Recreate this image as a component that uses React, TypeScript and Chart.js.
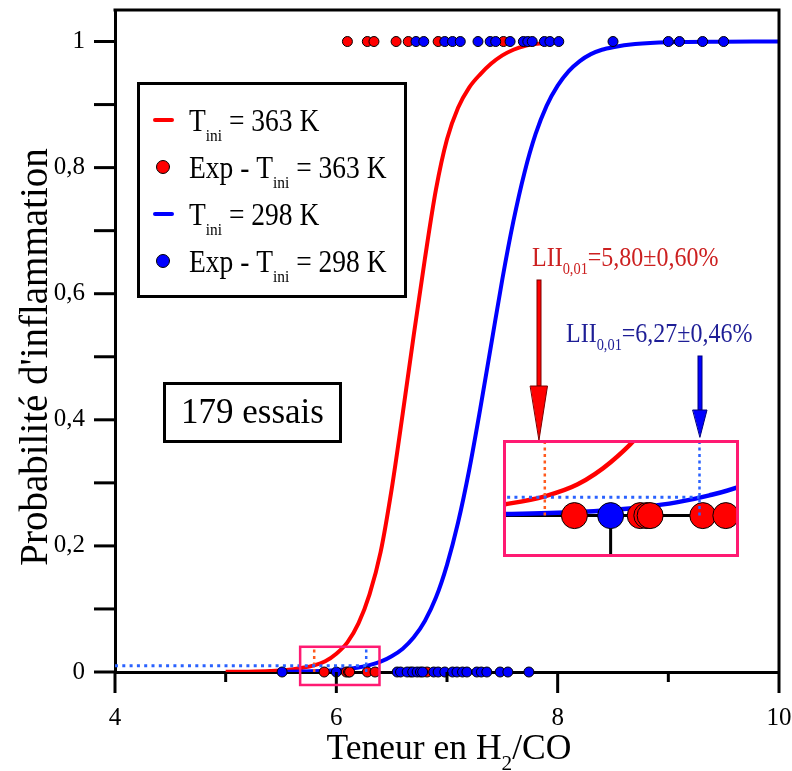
import React, { useEffect, useRef } from 'react';
import { Chart, registerables } from 'chart.js';

Chart.register(...registerables);

const FONT = '"Liberation Serif", "Times New Roman", serif';

// ---------- data ----------
const X_MIN = 4;
const X_MAX = 10;
const Y_MIN = 0;
const Y_MAX = 1.05;
const X_TICKS = [4, 5, 6, 7, 8, 9, 10];
const X_LABELED = [4, 6, 8, 10];
const Y_TICKS = [0, 0.1, 0.2, 0.3, 0.4, 0.5, 0.6, 0.7, 0.8, 0.9, 1];

// fitted curve T = 363 K
const redCurveX = [5.0, 5.2, 5.4, 5.55, 5.68, 5.8, 5.9, 6.0, 6.1, 6.2, 6.3, 6.4, 6.5, 6.6, 6.7, 6.8, 6.9, 7.0, 7.1, 7.2, 7.3, 7.4, 7.5, 7.6, 7.7, 7.85, 8.0];
const redCurveY = [0.0002, 0.0005, 0.0014, 0.003, 0.0062, 0.0105, 0.017, 0.029, 0.047, 0.077, 0.123, 0.19, 0.29, 0.41, 0.535, 0.655, 0.765, 0.845, 0.895, 0.927, 0.948, 0.965, 0.978, 0.987, 0.993, 0.997, 0.999];

// fitted curve T = 298 K
const blueCurveX = [5.5, 5.7, 5.9, 6.0, 6.1, 6.2, 6.3, 6.4, 6.5, 6.6, 6.7, 6.8, 6.9, 7.0, 7.1, 7.2, 7.3, 7.4, 7.5, 7.6, 7.7, 7.8, 7.9, 8.0, 8.1, 8.2, 8.3, 8.4, 8.5, 8.7, 9.0, 9.5, 10];
const blueCurveY = [0.0004, 0.0009, 0.002, 0.0031, 0.0047, 0.0072, 0.011, 0.0163, 0.025, 0.037, 0.055, 0.081, 0.118, 0.17, 0.237, 0.32, 0.417, 0.52, 0.623, 0.715, 0.792, 0.853, 0.898, 0.93, 0.953, 0.969, 0.98, 0.987, 0.991, 0.996, 0.999, 0.9998, 1.0];

// experiments: ignition (y = 1) and no ignition (y = 0)
const redIgnitionX = [6.1, 6.28, 6.34, 6.54, 6.65, 6.92, 7.51];
const blueIgnitionX = [6.72, 6.79, 6.98, 7.05, 7.12, 7.28, 7.39, 7.44, 7.57, 7.69, 7.73, 7.77, 7.88, 7.93, 8.01, 8.5, 9.0, 9.1, 9.31, 9.5];
const redNoIgnitionX = [5.89, 6.09, 6.11, 6.12, 6.28, 6.35, 6.67, 6.82];
const blueNoIgnitionX = [5.51, 6.0, 6.55, 6.58, 6.64, 6.69, 6.73, 6.76, 6.78, 6.88, 6.92, 6.98, 7.05, 7.09, 7.14, 7.18, 7.27, 7.31, 7.36, 7.48, 7.55, 7.74];

const P_LEVEL = 0.01;
const LII_RED = 5.8;
const LII_BLUE = 6.27;
const ZOOM_X = [5.673, 6.39];
const ZOOM_Y = [-0.0206, 0.04];
const INSET_Y = [-0.0225, 0.0411];

const LEGEND_LABELS = [
  { kind: 'line', color: '#ff0000', pre: 'T', post: ' = 363 K' },
  { kind: 'dot', color: '#ff0000', pre: 'Exp - T', post: ' = 363 K' },
  { kind: 'line', color: '#0000ff', pre: 'T', post: ' = 298 K' },
  { kind: 'dot', color: '#0000ff', pre: 'Exp - T', post: ' = 298 K' },
];

const RED = '#ff0000';
const BLUE = '#0000ff';
const DOT_BLUE = '#2a62ff';
const DOT_RED = '#ff5a1e';
const MAGENTA = '#ff1a72';

// ---------- helpers ----------
type Part = [string, boolean];
function drawRich(ctx: CanvasRenderingContext2D, parts: Part[], x: number, y: number, size: number, color: string, align: 'left' | 'center' = 'left', sy = 1.1, subScale = 0.6) {
  ctx.save();
  ctx.fillStyle = color;
  ctx.textBaseline = 'alphabetic';
  ctx.textAlign = 'left';
  const subSize = size * subScale;
  const widths = parts.map(([t, sub]) => {
    ctx.font = `${sub ? subSize : size}px ${FONT}`;
    return ctx.measureText(t).width;
  });
  const total = widths.reduce((a, b) => a + b, 0);
  let cx = align === 'center' ? x - total / 2 : x;
  ctx.translate(0, y);
  ctx.scale(1, sy);
  parts.forEach(([t, sub], i) => {
    ctx.font = `${sub ? subSize : size}px ${FONT}`;
    ctx.fillText(t, cx, sub ? size * 0.32 : 0);
    cx += widths[i];
  });
  ctx.restore();
}

function pts(xs: number[], y: number) {
  return xs.map((x) => ({ x, y }));
}
function curve(xs: number[], ys: number[]) {
  return xs.map((x, i) => ({ x, y: ys[i] }));
}

function buildDatasets(pointRadius: number, curveWidth: number, clipPoints: boolean) {
  return [
    {
      type: 'line' as const,
      data: [{ x: X_MIN, y: P_LEVEL }, { x: LII_BLUE, y: P_LEVEL }],
      borderColor: DOT_BLUE,
      borderWidth: 3,
      borderDash: [3, 4.3],
      pointRadius: 0,
      showLine: true,
    },
    {
      type: 'line' as const,
      data: [{ x: LII_RED, y: 0 }, { x: LII_RED, y: ZOOM_Y[1] }],
      borderColor: DOT_RED,
      borderWidth: 2.5,
      borderDash: [3, 3.5],
      pointRadius: 0,
      showLine: true,
    },
    {
      type: 'line' as const,
      data: [{ x: LII_BLUE, y: 0 }, { x: LII_BLUE, y: ZOOM_Y[1] }],
      borderColor: DOT_BLUE,
      borderWidth: 2.5,
      borderDash: [3, 3.5],
      pointRadius: 0,
      showLine: true,
    },
    {
      type: 'scatter' as const,
      data: [...pts(blueIgnitionX, 1), ...pts(blueNoIgnitionX, 0)],
      backgroundColor: BLUE,
      borderColor: '#000',
      borderWidth: 1,
      pointRadius,
      clip: clipPoints ? undefined : false,
    },
    {
      type: 'scatter' as const,
      data: [...pts(redIgnitionX, 1), ...pts(redNoIgnitionX, 0)],
      backgroundColor: RED,
      borderColor: '#000',
      borderWidth: 1,
      pointRadius,
      clip: clipPoints ? undefined : false,
    },
    {
      type: 'line' as const,
      data: curve(blueCurveX, blueCurveY),
      borderColor: BLUE,
      borderWidth: curveWidth,
      pointRadius: 0,
      showLine: true,
      cubicInterpolationMode: 'monotone' as const,
    },
    {
      type: 'line' as const,
      data: curve(redCurveX, redCurveY),
      borderColor: RED,
      borderWidth: curveWidth,
      pointRadius: 0,
      showLine: true,
      cubicInterpolationMode: 'monotone' as const,
    },
  ];
}

const zeroPad = (s: any) => {
  s.paddingLeft = 0;
  s.paddingRight = 0;
  s.paddingTop = 0;
  s.paddingBottom = 0;
};

// ---------- plugins ----------
const mainDecor = {
  id: 'mainDecor',
  afterDraw(chart: any) {
    const ctx: CanvasRenderingContext2D = chart.ctx;
    const { left, right, top, bottom } = chart.chartArea;
    const xs = chart.scales.x;
    const ys = chart.scales.y;
    ctx.save();
    ctx.strokeStyle = '#000';
    ctx.lineWidth = 3;
    ctx.lineCap = 'butt';
    // frame top / right
    ctx.beginPath();
    ctx.moveTo(left - 1.5, top);
    ctx.lineTo(right, top);
    ctx.moveTo(right, top - 1.5);
    ctx.lineTo(right, bottom);
    ctx.stroke();
    // x ticks
    X_TICKS.forEach((v) => {
      const px = xs.getPixelForValue(v);
      const len = X_LABELED.includes(v) ? 21 : 10;
      ctx.beginPath();
      ctx.moveTo(px, bottom);
      ctx.lineTo(px, bottom + len);
      ctx.stroke();
    });
    // y ticks
    Y_TICKS.forEach((v) => {
      const py = ys.getPixelForValue(v);
      ctx.beginPath();
      ctx.moveTo(left - 21, py);
      ctx.lineTo(left, py);
      ctx.stroke();
    });
    // zoom box
    const bx0 = xs.getPixelForValue(ZOOM_X[0]);
    const bx1 = xs.getPixelForValue(ZOOM_X[1]);
    const by0 = ys.getPixelForValue(ZOOM_Y[1]);
    const by1 = ys.getPixelForValue(ZOOM_Y[0]);
    ctx.strokeStyle = MAGENTA;
    ctx.lineWidth = 2.5;
    ctx.strokeRect(bx0, by0, bx1 - bx0, by1 - by0);

    // legend box
    ctx.fillStyle = '#fff';
    ctx.fillRect(138, 83, 268, 214);
    ctx.strokeStyle = '#000';
    ctx.lineWidth = 3;
    ctx.strokeRect(138.5, 83.5, 267, 213);
    LEGEND_LABELS.forEach((it, i) => {
      const cy = 120 + i * 47;
      if (it.kind === 'line') {
        ctx.strokeStyle = it.color;
        ctx.lineWidth = 4;
        ctx.lineCap = 'round';
        ctx.beginPath();
        ctx.moveTo(155, cy);
        ctx.lineTo(172, cy);
        ctx.stroke();
      } else {
        ctx.fillStyle = it.color;
        ctx.strokeStyle = '#000';
        ctx.lineWidth = 1;
        ctx.beginPath();
        ctx.arc(163, cy, 6.5, 0, Math.PI * 2);
        ctx.fill();
        ctx.stroke();
      }
      drawRich(ctx, [[it.pre, false], ['ini', true], [it.post, false]], 189, cy + 11, 27.5, '#000', 'left', 1.12, 0.56);
    });

    // 179 essais
    ctx.fillStyle = '#fff';
    ctx.fillRect(163, 382, 179, 61);
    ctx.strokeStyle = '#000';
    ctx.lineWidth = 3;
    ctx.strokeRect(164.5, 383.5, 176, 58);
    drawRich(ctx, [['179 essais', false]], 252.5, 423, 35, '#000', 'center', 1.05);

    // LII labels
    drawRich(ctx, [['LII', false], ['0,01', true], ['=5,80\u00b10,60%', false]], 532, 266, 24, '#cc2020');
    drawRich(ctx, [['LII', false], ['0,01', true], ['=6,27\u00b10,46%', false]], 566, 342, 24, '#1e1e96');

    // arrows
    const arrow = (x: number, y0: number, yh: number, yt: number, hw: number, fill: string, stroke: string) => {
      ctx.fillStyle = fill;
      ctx.strokeStyle = stroke;
      ctx.lineWidth = 1;
      ctx.fillRect(x - 2, y0, 4, yh - y0 + 1);
      ctx.strokeRect(x - 2, y0, 4, yh - y0);
      ctx.beginPath();
      ctx.moveTo(x - hw, yh);
      ctx.lineTo(x + hw, yh);
      ctx.lineTo(x, yt);
      ctx.closePath();
      ctx.fill();
      ctx.stroke();
    };
    arrow(539, 280, 386, 440, 8.5, RED, '#7a0000');
    arrow(700, 356, 410, 437, 7, BLUE, '#00007a');

    // axis titles
    drawRich(ctx, [['Teneur en H', false], ['2', true], ['/CO', false]], 449, 759, 35.5, '#000', 'center', 1.0);
    ctx.save();
    ctx.translate(47, 357);
    ctx.rotate(-Math.PI / 2);
    drawRich(ctx, [["Probabilit\u00e9 d'inflammation", false]], 0, 0, 39, '#000', 'center', 1.0);
    ctx.restore();

    ctx.restore();
  },
};

const insetDecor = {
  id: 'insetDecor',
  beforeDraw(chart: any) {
    const ctx: CanvasRenderingContext2D = chart.ctx;
    ctx.save();
    ctx.fillStyle = '#fff';
    ctx.fillRect(0, 0, chart.width, chart.height);
    ctx.restore();
  },
  beforeDatasetsDraw(chart: any) {
    const ctx: CanvasRenderingContext2D = chart.ctx;
    const xs = chart.scales.x;
    const ys = chart.scales.y;
    const y0 = ys.getPixelForValue(0);
    ctx.save();
    ctx.strokeStyle = '#000';
    ctx.lineWidth = 3;
    ctx.beginPath();
    ctx.moveTo(0, y0);
    ctx.lineTo(chart.width, y0);
    const x6 = xs.getPixelForValue(6);
    ctx.moveTo(x6, y0);
    ctx.lineTo(x6, chart.height);
    ctx.stroke();
    ctx.restore();
  },
  afterDraw(chart: any) {
    const ctx: CanvasRenderingContext2D = chart.ctx;
    ctx.save();
    ctx.strokeStyle = MAGENTA;
    ctx.lineWidth = 3;
    ctx.strokeRect(1.5, 1.5, chart.width - 3, chart.height - 3);
    ctx.restore();
  },
};

export default function App() {
  const mainRef = useRef<HTMLCanvasElement>(null);
  const insetRef = useRef<HTMLCanvasElement>(null);

  useEffect(() => {
    const main = new Chart(mainRef.current as HTMLCanvasElement, {
      type: 'scatter',
      data: { datasets: buildDatasets(5, 4, false) as any },
      options: {
        responsive: false,
        animation: false,
        devicePixelRatio: 1,
        events: [],
        layout: { autoPadding: false, padding: { top: 10, right: 13, left: 0, bottom: 0 } },
        plugins: { legend: { display: false }, tooltip: { enabled: false } },
        scales: {
          x: {
            type: 'linear',
            bounds: 'data',
            min: X_MIN,
            max: X_MAX,
            position: 'bottom',
            border: { display: true, color: '#000', width: 3 },
            grid: { drawOnChartArea: false, drawTicks: true, tickLength: 21, color: 'rgba(0,0,0,0)' },
            ticks: {
              stepSize: 1,
              autoSkip: false,
              maxRotation: 0,
              padding: 10,
              color: '#000',
              font: { family: FONT, size: 25 },
              callback: (v: any) => (X_LABELED.includes(Number(v)) ? String(v) : ''),
            },
            afterFit: (s: any) => {
              s.height = 99;
              zeroPad(s);
            },
          },
          y: {
            type: 'linear',
            bounds: 'data',
            min: Y_MIN,
            max: Y_MAX,
            border: { display: true, color: '#000', width: 3 },
            grid: { drawOnChartArea: false, drawTicks: true, tickLength: 21, color: 'rgba(0,0,0,0)' },
            ticks: {
              stepSize: 0.1,
              includeBounds: false,
              autoSkip: false,
              padding: 9,
              color: '#000',
              font: { family: FONT, size: 25 },
              callback: (v: any) => {
                const k = Math.round(Number(v) * 10);
                if (k % 2 !== 0) return '';
                if (k === 0) return '0';
                if (k === 10) return '1';
                return (k / 10).toFixed(1).replace('.', ',');
              },
            },
            afterFit: (s: any) => {
              s.width = 115;
              zeroPad(s);
            },
          },
        },
      } as any,
      plugins: [mainDecor],
    });

    const inset = new Chart(insetRef.current as HTMLCanvasElement, {
      type: 'scatter',
      data: { datasets: buildDatasets(13, 4.5, true) as any },
      options: {
        responsive: false,
        animation: false,
        devicePixelRatio: 1,
        events: [],
        layout: { autoPadding: false, padding: 0 },
        plugins: { legend: { display: false }, tooltip: { enabled: false } },
        scales: {
          x: { type: 'linear', bounds: 'data', grace: 0, display: false, min: ZOOM_X[0], max: ZOOM_X[1], ticks: { includeBounds: true } },
          y: { type: 'linear', bounds: 'data', grace: 0, display: false, min: INSET_Y[0], max: INSET_Y[1], ticks: { includeBounds: true } },
        },
      } as any,
      plugins: [insetDecor],
    });

    return () => {
      main.destroy();
      inset.destroy();
    };
  }, []);

  return (
    <div style={{ position: 'fixed', left: 0, top: 0, width: 792, height: 771, background: '#fff' }}>
      <canvas
        ref={mainRef}
        width={792}
        height={771}
        style={{ position: 'absolute', left: 0, top: 0, width: 792, height: 771 }}
      />
      <canvas
        ref={insetRef}
        width={236}
        height={117}
        style={{ position: 'absolute', left: 503, top: 440, width: 236, height: 117 }}
      />
    </div>
  );
}
